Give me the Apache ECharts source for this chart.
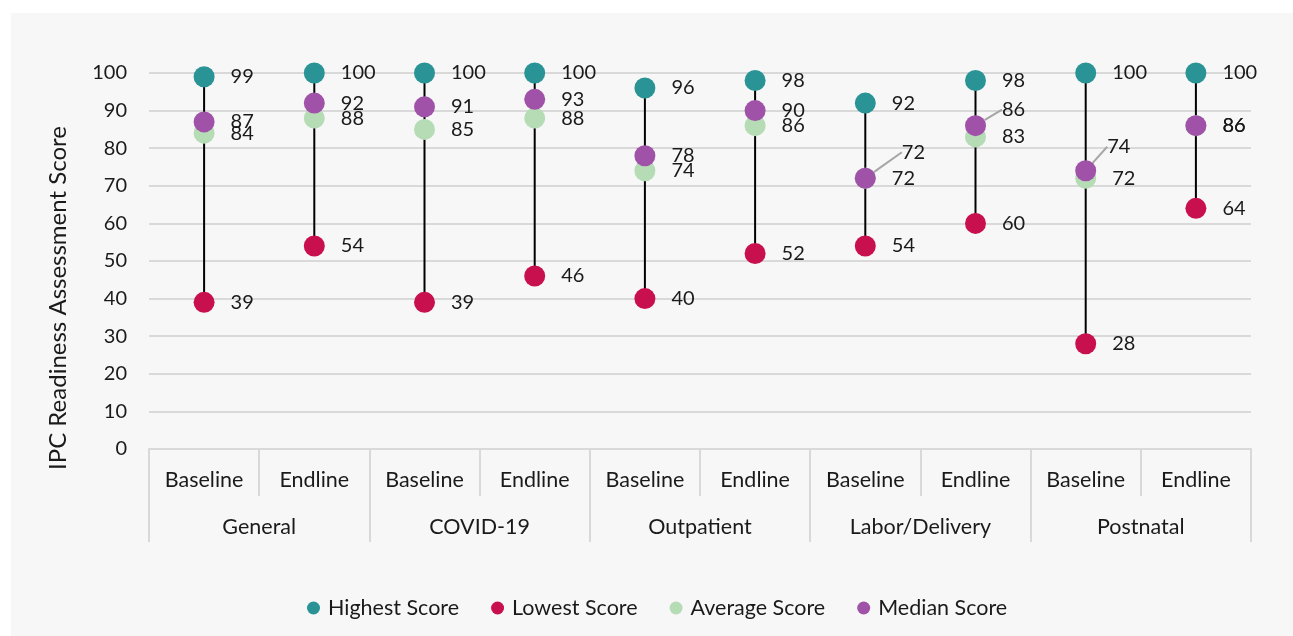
<!DOCTYPE html>
<html>
<head>
<meta charset="utf-8">
<style>
  html, body { margin: 0; padding: 0; background: #ffffff; }
  #chart { width: 1293px; height: 636px; }
</style>
<script src="https://cdn.jsdelivr.net/npm/echarts@6/dist/echarts.min.js"></script>
</head>
<body>
<div id="chart"></div>
<script>
// Survey rounds (inner axis) and facility areas (outer axis)
const rounds = ['Baseline', 'Endline', 'Baseline', 'Endline', 'Baseline', 'Endline', 'Baseline', 'Endline', 'Baseline', 'Endline'];
const areas = ['General', 'COVID-19', 'Outpatient', 'Labor/Delivery', 'Postnatal'];

// Scores per area/round
const highest = [99, 100, 100, 100, 96, 98, 92, 98, 100, 100];
const lowest  = [39, 54, 39, 46, 40, 52, 54, 60, 28, 64];
const average = [84, 88, 85, 88, 74, 86, 72, 83, 72, 86];
const median  = [87, 92, 91, 93, 78, 90, 72, 86, 74, 86];

const yTicks = { min: 0, max: 100, interval: 10 };

const colors = {
  highest: '#2a9396',
  lowest: '#c8104e',
  average: '#b5dcb5',
  median: '#a052a8'
};

const FONT = 'Lato';
const TEXT = '#1a1a1a';

// Median labels that are nudged away from crowded points (dataIndex -> offset)
const medianLabelShift = {
  6: { dx: 10, dy: -26 },
  7: { dx: 0, dy: -16 },
  8: { dx: -5, dy: -24 }
};

const chart = echarts.init(document.getElementById('chart'), null, { renderer: 'canvas' });

function scoreSeries(name, values, color, extra) {
  return Object.assign({
    name: name,
    type: 'scatter',
    xAxisIndex: 0,
    symbol: 'circle',
    symbolSize: 21,
    itemStyle: { color: color, opacity: 1 },
    label: {
      show: true,
      position: 'right',
      distance: 16,
      fontFamily: FONT,
      fontSize: 20,
      color: TEXT
    },
    labelLine: { show: false },
    emphasis: { disabled: true },
    data: values
  }, extra || {});
}

// Median points whose label is moved get a leader line back to the dot
const medianData = median.map(function (v, i) {
  return medianLabelShift[i] ? { value: v, labelLine: { show: true } } : v;
});

const option = {
  backgroundColor: '#ffffff',
  animation: false,
  textStyle: { fontFamily: FONT },
  graphic: [
    {
      type: 'rect',
      z: -100,
      silent: true,
      shape: { x: 11, y: 13, width: 1282, height: 623 },
      style: { fill: '#f7f7f7' }
    },
    {
      type: 'text',
      x: 58,
      y: 298,
      rotation: Math.PI / 2,
      silent: true,
      style: {
        text: 'IPC Readiness Assessment Score',
        fontFamily: FONT,
        fontSize: 24,
        fill: TEXT,
        align: 'center',
        verticalAlign: 'middle'
      }
    }
  ],
  grid: { left: 149, right: 42, top: 73, bottom: 187, containLabel: false },
  legend: {
    data: ['Highest Score', 'Lowest Score', 'Average Score', 'Median Score'],
    top: 592,
    left: 302,
    icon: 'circle',
    itemWidth: 13,
    itemHeight: 13,
    itemGap: 32,
    textStyle: { fontFamily: FONT, fontSize: 21.5, color: TEXT, padding: [0, 0, 0, 3] }
  },
  xAxis: [
    {
      type: 'category',
      data: rounds,
      position: 'bottom',
      axisLine: { show: true, lineStyle: { color: '#d9d9d9', width: 2 } },
      axisTick: { show: true, length: 47, lineStyle: { color: '#d9d9d9', width: 2 } },
      axisLabel: { margin: 20, fontFamily: FONT, fontSize: 21.5, color: TEXT, interval: 0 },
      splitLine: { show: false }
    },
    {
      type: 'category',
      data: areas,
      position: 'bottom',
      offset: 47,
      axisLine: { show: false },
      axisTick: { show: true, length: 46, lineStyle: { color: '#d9d9d9', width: 2 } },
      axisLabel: { margin: 20, fontFamily: FONT, fontSize: 21.5, color: TEXT, interval: 0 },
      splitLine: { show: false }
    }
  ],
  yAxis: {
    type: 'value',
    min: yTicks.min,
    max: yTicks.max,
    interval: yTicks.interval,
    axisLine: { show: false },
    axisTick: { show: false },
    axisLabel: { margin: 22, fontFamily: FONT, fontSize: 20, color: TEXT },
    splitLine: { show: true, lineStyle: { color: '#d9d9d9', width: 2 } }
  },
  series: [
    {
      // Stem from lowest to highest score in each round
      name: 'Range',
      type: 'custom',
      xAxisIndex: 0,
      silent: true,
      z: 1,
      data: rounds.map(function (r, i) { return [i, lowest[i], highest[i]]; }),
      renderItem: function (params, api) {
        const i = api.value(0);
        const p1 = api.coord([i, api.value(1)]);
        const p2 = api.coord([i, api.value(2)]);
        return {
          type: 'line',
          shape: { x1: p1[0], y1: p1[1], x2: p2[0], y2: p2[1] },
          style: { stroke: '#000000', lineWidth: 2 }
        };
      }
    },
    scoreSeries('Highest Score', highest, colors.highest),
    scoreSeries('Lowest Score', lowest, colors.lowest),
    scoreSeries('Average Score', average, colors.average),
    scoreSeries('Median Score', medianData, colors.median, {
      labelLine: { show: false, lineStyle: { color: '#a6a6a6', width: 2 } },
      labelLayout: function (params) {
        const s = medianLabelShift[params.dataIndex];
        return s ? { dx: s.dx, dy: s.dy } : {};
      }
    })
  ]
};

chart.setOption(option);
</script>
</body>
</html>
